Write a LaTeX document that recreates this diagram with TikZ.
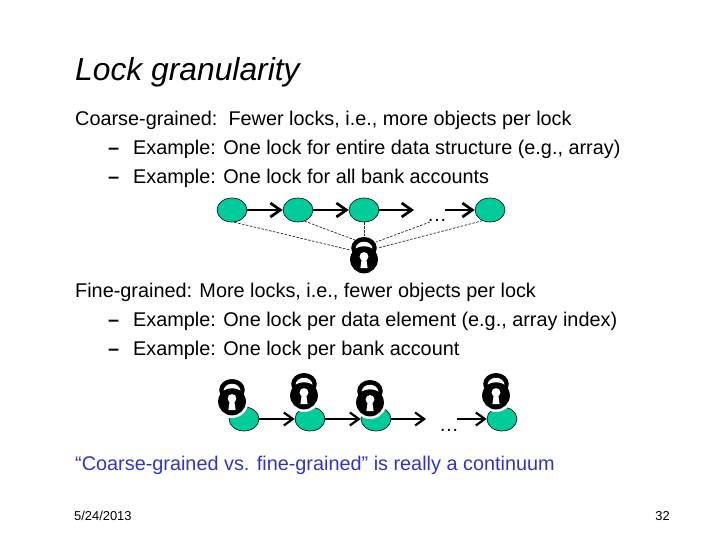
\documentclass[tikz,border=0pt]{standalone}
\usepackage{fontspec}
\setmainfont{Liberation Sans}
\usetikzlibrary{arrows.meta,shapes.geometric}
\definecolor{teal0}{HTML}{00CC99}
\definecolor{blue0}{HTML}{3333CC}
\tikzset{
  x=1pt,y=-1pt,
  txt/.style={anchor=base west,inner sep=0pt,font=\fontsize{19.85}{22}\selectfont},
  cell/.style={ellipse,draw=black,line width=0.6pt,fill=teal0,minimum width=30pt,minimum height=24pt,inner sep=0pt},
  link/.style={line width=2.7pt,-{Straight Barb[length=10pt,width=14pt,line width=2.7pt]}},
  thinlink/.style={line width=2pt,-{Straight Barb[length=9pt,width=13pt,line width=2.2pt]}},
  dash0/.style={line width=0.7pt,dash pattern=on 2.5pt off 1.5pt,draw=black!85},
  padlock/.pic={
    \fill[black] (0,4.5) circle[radius=13.9];
    \fill[black] (0,-7) ellipse[x radius=12.8,y radius=11];
    \fill[white] (-8.5,-6.5) .. controls (-7,-15.5) and (7,-15.5) .. (8.5,-6.5) .. controls (4,-9.5) and (-4,-9.5) .. (-8.5,-6.5) -- cycle;
    \fill[white] (0,1.5) circle[radius=4.4];
    \fill[white] (-2,2) -- (-3.6,13) -- (3.6,13) -- (2,2) -- cycle;
  },
  halolock/.pic={
    \fill[white] (0,4.5) circle[radius=16.5];
    \pic {padlock};
  }
}
\begin{document}
\begin{tikzpicture}
\useasboundingbox (0,0) rectangle (720,540);
\fill[white] (0,0) rectangle (720,540);
\node[anchor=base west,inner sep=0pt,font=\fontsize{31.8}{36}\selectfont\itshape] (title) at (75,81) {Lock granularity};
\node[txt] (l1) at (75,126) {Coarse-grained:\ \ Fewer locks, i.e., more objects per lock};
\node[txt] (l2) at (108,155) {\makebox[25pt][l]{\textbf{–}}Example: One lock for entire data structure (e.g., array)};
\node[txt] (l3) at (108,184) {\makebox[25pt][l]{\textbf{–}}Example: One lock for all bank accounts};
\node[txt] (l4) at (75,297) {Fine-grained: More locks, i.e., fewer objects per lock};
\node[txt] (l5) at (108,326) {\makebox[25pt][l]{\textbf{–}}Example: One lock per data element (e.g., array index)};
\node[txt] (l6) at (108,355) {\makebox[25pt][l]{\textbf{–}}Example: One lock per bank account};
\node[txt,text=blue0] (l7) at (75,470) {“Coarse-grained vs. fine-grained” is really a continuum};
\node[anchor=base west,inner sep=0pt,font=\fontsize{12.9}{14}\selectfont] (date) at (74,520) {5/24/2013};
\node[anchor=base east,inner sep=0pt,font=\fontsize{12.9}{14}\selectfont] (page) at (670,520) {32};
% coarse list
\node[cell] (a1) at (232,210) {};
\node[cell] (a2) at (298,210) {};
\node[cell] (a3) at (364,210) {};
\node[cell] (a4) at (490,210) {};
\coordinate (aend) at (414,210);
\coordinate (astart) at (445,210);
\coordinate (adots) at (430,222);
\coordinate (lk) at (364,255);
\coordinate (k1) at (350,250);
\coordinate (k2) at (355,240);
\coordinate (k3) at (364,236);
\coordinate (k4) at (376,242);
\coordinate (k5) at (378,248);
\draw[link] (a1) -- (a2);
\draw[link] (a2) -- (a3);
\draw[link] (a3) -- (aend);
\draw[link] (astart) -- (a4);
\draw[dash0] (a1.-80) -- (k1);
\draw[dash0] (a2.-60) -- (k2);
\draw[dash0] (a3.south) -- (k3);
\draw[dash0] (adots) -- (k4);
\draw[dash0] (a4.-125) -- (k5);
\node[anchor=base,inner sep=0pt,font=\fontsize{19.85}{22}\selectfont] (d1) at (437,222) {…};
\pic at (lk) {padlock};
% fine list
\node[cell] (b1) at (244,419) {};
\node[cell] (b2) at (310,419) {};
\node[cell] (b3) at (376,419) {};
\node[cell] (b4) at (502,419) {};
\coordinate (bend) at (426,419);
\coordinate (bstart) at (457,419);
\draw[thinlink] (b1) -- (b2);
\draw[thinlink] (b2) -- (b3);
\draw[thinlink] (b3) -- (bend);
\draw[thinlink] (bstart) -- (b4);
\node[anchor=base,inner sep=0pt,font=\fontsize{19.85}{22}\selectfont] (d2) at (449,431) {…};
\pic at (232,397) {halolock};
\pic at (304,391) {halolock};
\pic at (370,398) {halolock};
\pic at (496,391) {halolock};
\end{tikzpicture}
\end{document}
